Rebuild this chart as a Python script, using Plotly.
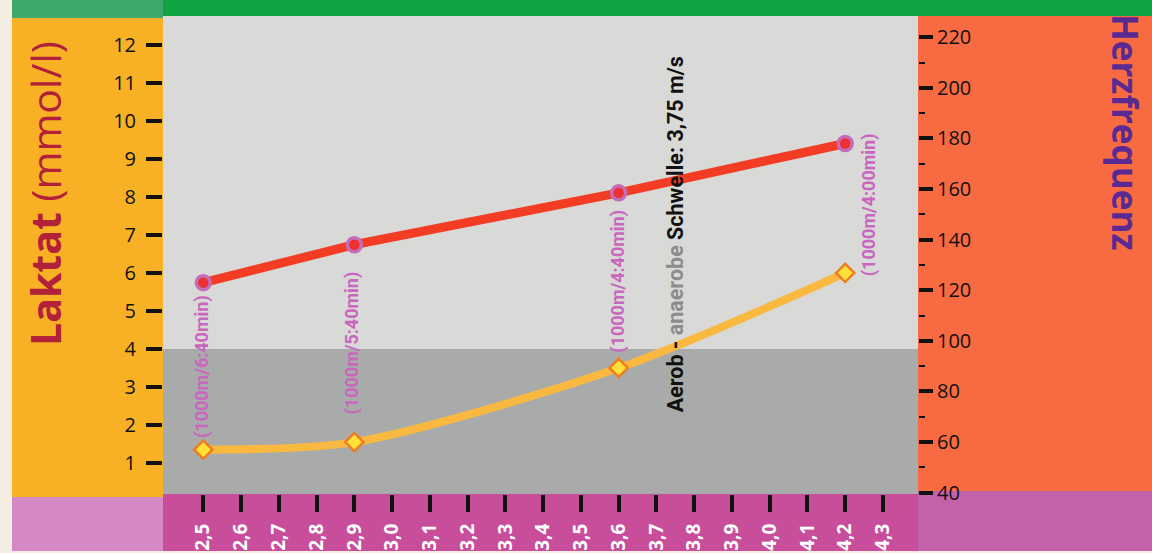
import plotly.graph_objects as go

# ---------------- data ----------------
speed = [2.5, 2.9, 3.6, 4.2]                 # m/s
heart_rate = [123, 138, 158.5, 178]          # bpm
lactate = [1.35, 1.55, 3.5, 6.0]             # mmol/l
pace_labels = ["(1000m/6:40min)", "(1000m/5:40min)", "(1000m/4:40min)", "(1000m/4:00min)"]
threshold_speed = 3.75
threshold_lactate = 4
speed_ticks = [2.5, 2.6, 2.7, 2.8, 2.9, 3.0, 3.1, 3.2, 3.3, 3.4, 3.5, 3.6, 3.7, 3.8, 3.9, 4.0, 4.1, 4.2, 4.3]
speed_tick_text = ["2,5", "2,6", "2,7", "2,8", "2,9", "3,0", "3,1", "3,2", "3,3", "3,4",
                   "3,5", "3,6", "3,7", "3,8", "3,9", "4,0", "4,1", "4,2", "4,3"]
lactate_ticks = [1, 2, 3, 4, 5, 6, 7, 8, 9, 10, 11, 12]
hr_ticks = [40, 60, 80, 100, 120, 140, 160, 180, 200, 220]

# ---------------- layout geometry (pixels) ----------------
W, H = 1152, 553
L, R, T, B = 163, 918, 16, 494
pw, ph = R - L, B - T


def px(x):
    return (x - L) / pw


def py(y):
    return (B - y) / ph


label_xshift = [-2, -2, -1, 24]
label_yshift = [83, 99, 87, 68]

bands = [
    (12, 0, 163, 18, "#3fa86c"),
    (163, 0, 1152, 16, "#10a444"),
    (12, 18, 163, 497, "#f8b124"),
    (918, 16, 1152, 491, "#f86a42"),
    (12, 497, 163, 551, "#d488c4"),
    (163, 494, 918, 551, "#c84e9c"),
    (918, 491, 1152, 551, "#c262ab"),
]
shapes = [dict(type="rect", xref="paper", yref="paper", x0=px(a), x1=px(c), y0=py(d), y1=py(b),
               fillcolor=col, line_width=0, layer="below") for a, b, c, d, col in bands]

y_range = [0.184, 12.763]
y2_range = [39.45, 228.4]
x_range = [2.3933, 4.3927]

shapes.append(dict(type="rect", xref="paper", yref="y", x0=0, x1=1, y0=y_range[0], y1=threshold_lactate,
                   fillcolor="#a9abaa", line_width=0, layer="below"))

fig = go.Figure()

fig.add_trace(go.Scatter(
    x=speed, y=lactate, mode="lines+markers", yaxis="y",
    line=dict(color="#f9b940", width=8, shape="spline", smoothing=0.8),
    marker=dict(symbol="diamond", size=14, color="#ffe13a", line=dict(color="#f07d20", width=2.5)),
    showlegend=False, hoverinfo="skip"))

fig.add_trace(go.Scatter(
    x=speed, y=heart_rate, mode="lines+markers", yaxis="y2",
    line=dict(color="#f23d24", width=9),
    marker=dict(symbol="circle", size=14, color="#ee3030", line=dict(color="#c46cb8", width=3.5)),
    showlegend=False, hoverinfo="skip"))

narrow = "Roboto, Liberation Sans Narrow, sans-serif"
annotations = []
for xs, ys, txt, dx, dy in zip(speed, lactate, pace_labels, label_xshift, label_yshift):
    annotations.append(dict(x=xs, y=ys, xref="x", yref="y", text=txt, textangle=-90,
                            showarrow=False, xshift=dx, yshift=dy,
                            xanchor="center", yanchor="middle",
                            font=dict(family=narrow, size=18, color="#c966bf", weight="bold")))

annotations.append(dict(
    x=threshold_speed, y=py(234), xref="x", yref="paper",
    xanchor="center", yanchor="middle",
    text="Aerob - <span style='color:#8c8c8c'>anaerobe</span> Schwelle: 3,75 m/s",
    textangle=-90, showarrow=False,
    font=dict(family=narrow, size=21.5, color="#111111", weight="bold")))

annotations.append(dict(
    x=px(45), y=py(194), xref="paper", yref="paper",
    xanchor="center", yanchor="middle",
    text="<b>Laktat</b> (mmol/l)", textangle=-90, showarrow=False,
    font=dict(family="Open Sans, sans-serif", size=41, color="#b1213a")))

annotations.append(dict(
    x=px(1126), y=py(132), xref="paper", yref="paper",
    xanchor="center", yanchor="middle",
    text="<b>Herzfrequenz</b>", textangle=90, showarrow=False,
    font=dict(family="Open Sans, sans-serif", size=35, color="#5a2a92")))

fig.update_layout(
    width=W, height=H,
    margin=dict(l=L, r=W - R, t=T, b=H - B, pad=0, autoexpand=False),
    paper_bgcolor="#f4ede4",
    plot_bgcolor="#d9d9d7",
    shapes=shapes,
    annotations=annotations,
    xaxis=dict(range=x_range, tickvals=speed_ticks, ticktext=speed_tick_text,
               ticks="outside", ticklen=17, tickwidth=3.5, tickcolor="#111111",
               tickangle=-90, showgrid=False, zeroline=False, showline=False,
               ticklabelstandoff=4, automargin=False,
               tickfont=dict(family="Open Sans, sans-serif", size=19, color="white", weight="bold")),
    yaxis=dict(range=y_range, tickvals=lactate_ticks, ticks="outside", ticklen=16, tickwidth=4,
               tickcolor="#111111", showgrid=False, zeroline=False, showline=False,
               ticklabelstandoff=6, automargin=False,
               tickfont=dict(family="Open Sans, sans-serif", size=20, color="#111111")),
    yaxis2=dict(range=y2_range, tickvals=hr_ticks, overlaying="y", side="right",
                ticks="outside", ticklen=14, tickwidth=4, tickcolor="#111111",
                minor=dict(ticks="outside", ticklen=6, tickwidth=2, dtick=10, tickcolor="#111111"),
                showgrid=False, zeroline=False, showline=False, automargin=False,
                tickfont=dict(family="Open Sans, sans-serif", size=20, color="#111111")),
)

fig.write_html("out.html")
